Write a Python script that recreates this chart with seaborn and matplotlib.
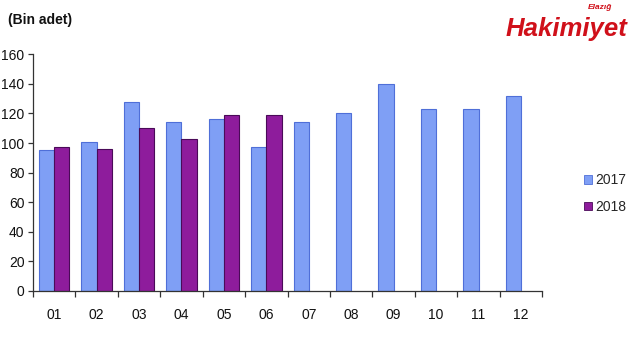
import numpy as np
import pandas as pd
import matplotlib
matplotlib.use("Agg")
import matplotlib.pyplot as plt
import seaborn as sns
from matplotlib.patches import Patch

months = ["01", "02", "03", "04", "05", "06", "07", "08", "09", "10", "11", "12"]
v2017 = [95, 101, 128, 114, 116, 97, 114, 120, 140, 123, 123, 132]
v2018 = [97, 96, 110, 103, 119, 119, np.nan, np.nan, np.nan, np.nan, np.nan, np.nan]
series = ["2017", "2018"]
yticks = [0, 20, 40, 60, 80, 100, 120, 140, 160]
title = "(Bin adet)"

sns.set_theme(style="white")
plt.rcParams["font.family"] = ["Liberation Sans", "DejaVu Sans"]

df = pd.DataFrame({
    "month": months * 2,
    "year": ["2017"] * len(months) + ["2018"] * len(months),
    "value": list(v2017) + list(v2018),
})

colors = {"2017": "#7f9ff5", "2018": "#8e1c9c"}
edges = {"2017": "#4f6fd8", "2018": "#4a0a58"}

fig = plt.figure(figsize=(6.32, 3.56), dpi=100)
ax = fig.add_axes([0.052, 0.1826, 0.806, 0.665])

sns.barplot(data=df, x="month", y="value", hue="year", order=months,
            hue_order=series, palette=colors, width=0.72, ax=ax,
            legend=False, saturation=1)

for bars, s in zip(ax.containers, series):
    for b in bars:
        b.set_edgecolor(edges[s])
        b.set_linewidth(0.8)

ax.set_ylim(0, 160)
ax.set_xlim(-0.5, len(months) - 0.5)
ax.set_yticks(yticks)
ax.set_xlabel("")
ax.set_ylabel("")

for s in ["top", "right"]:
    ax.spines[s].set_visible(False)
for s in ["left", "bottom"]:
    ax.spines[s].set_color("#333333")
    ax.spines[s].set_linewidth(0.9)

ax.tick_params(axis="y", which="major", left=True, length=3.5, width=0.9,
               color="#333333", pad=2.5, labelsize=10, labelcolor="#111111")
ax.tick_params(axis="x", which="major", bottom=False, length=0, pad=12,
               labelsize=10, labelcolor="#111111")
ax.set_xticks(np.arange(-0.5, len(months), 1.0), minor=True)
ax.tick_params(axis="x", which="minor", bottom=True, length=4, width=0.9,
               color="#333333", direction="out")

fig.text(0.013, 0.945, title, fontsize=10, fontweight="bold", color="#111111",
         ha="left", va="center")

# watermark logo text
fig.text(0.992, 0.918, "Hakimiyet", fontsize=18.5, fontweight="bold", style="italic",
         color="#d0101a", ha="right", va="center")
fig.text(0.968, 0.978, "Elazığ", fontsize=6, fontweight="bold", style="italic",
         color="#d0101a", ha="right", va="center")

handles = [Patch(facecolor=colors[s], edgecolor=edges[s], linewidth=0.6) for s in series]
fig.legend(handles, series, loc="center left", bbox_to_anchor=(0.915, 0.456),
           frameon=False, fontsize=10, handlelength=0.6, handleheight=0.6,
           handletextpad=0.2, labelspacing=0.9, borderaxespad=0)

fig.savefig("out.png", dpi=100, facecolor="white")
